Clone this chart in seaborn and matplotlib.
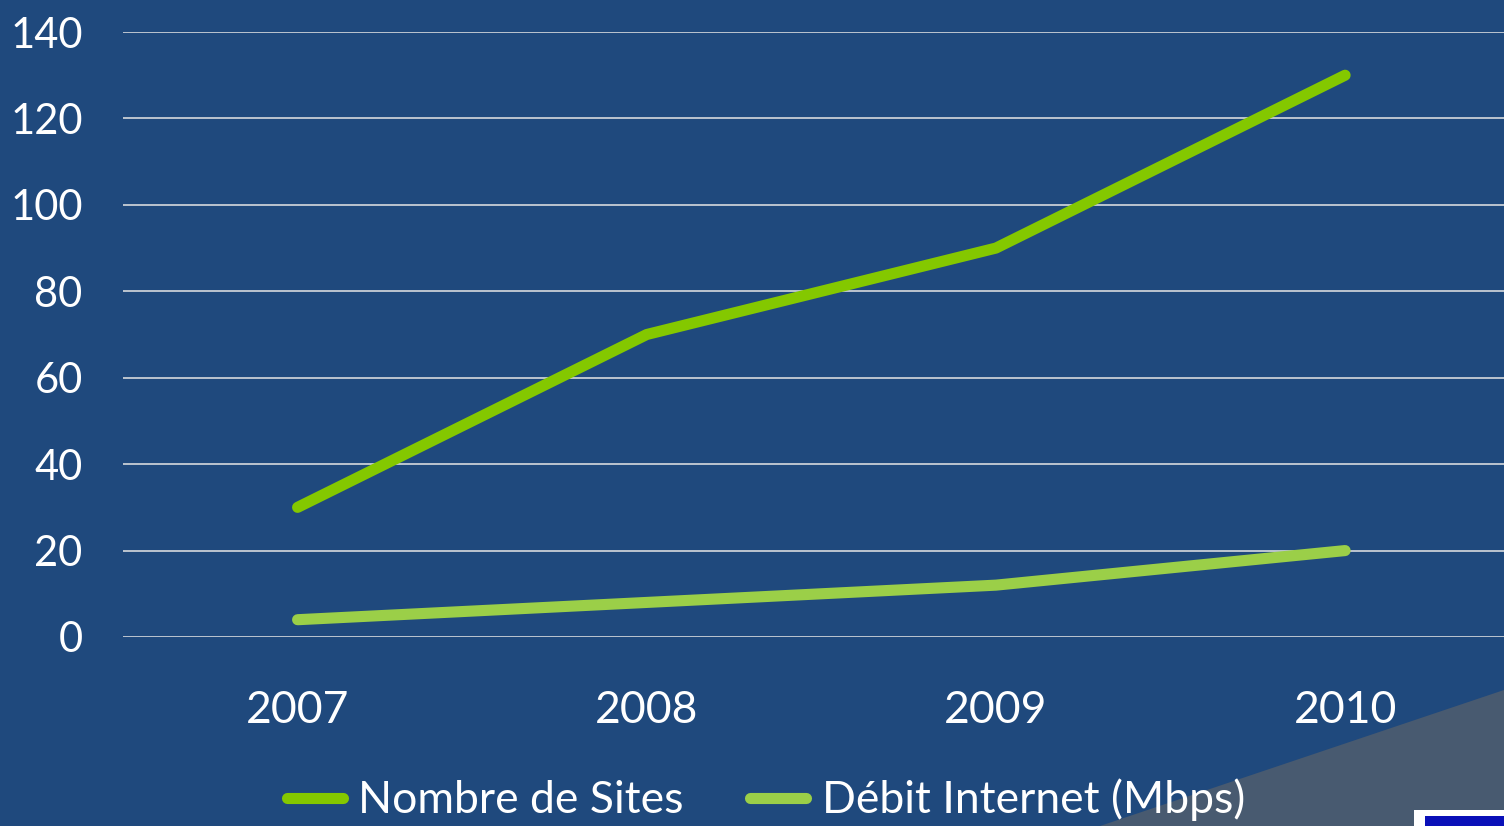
import pandas as pd
import matplotlib.pyplot as plt
import seaborn as sns
from matplotlib.patches import Polygon, Rectangle

# Données
annees = ["2007", "2008", "2009", "2010"]
nombre_sites = [30, 70, 90, 130]
debit_internet = [4, 8, 12, 20]
series = ["Nombre de Sites", "Débit Internet (Mbps)"]
couleurs = ["#84C800", "#9BCF48"]
yticks = [0, 20, 40, 60, 80, 100, 120, 140]

df = pd.DataFrame({
    "annee": annees * 2,
    "valeur": nombre_sites + debit_internet,
    "serie": [series[0]] * 4 + [series[1]] * 4,
})

fond = "#1F497D"
sns.set_style("white")
plt.rcParams["font.family"] = ["Lato", "DejaVu Sans"]

fig = plt.figure(figsize=(15.04, 8.26), dpi=100, facecolor=fond)
# bande grise en bas à droite + coin du logo
fig.patches.append(Polygon([(1100 / 1504, 0), (1.0, 0), (1.0, 1 - 690 / 826)],
                           closed=True, transform=fig.transFigure,
                           facecolor="#485A70", edgecolor="none", zorder=0))
fig.patches.append(Rectangle((1414 / 1504, 0), 90 / 1504, 16 / 826,
                             transform=fig.transFigure, facecolor="white",
                             edgecolor="none", zorder=1))
fig.patches.append(Rectangle((1425 / 1504, 0), 79 / 1504, 10 / 826,
                             transform=fig.transFigure, facecolor="#0A10B8",
                             edgecolor="none", zorder=2))

ax = fig.add_axes([123 / 1504, 1 - 637 / 826, 1 - 123 / 1504, (637 - 32) / 826])
ax.set_facecolor("none")

sns.lineplot(data=df, x="annee", y="valeur", hue="serie", palette=couleurs,
             linewidth=8, sort=False, ax=ax, legend=False, zorder=3)
for ln in ax.lines:
    ln.set_solid_capstyle("round")
    ln.set_solid_joinstyle("round")

ax.set_ylim(0, 140)
ax.set_xlim(-0.5, 3.455)
ax.set_yticks(yticks)
ax.yaxis.grid(True, color="#C8CED6", linewidth=1.3)
ax.set_axisbelow(True)
for s in ax.spines.values():
    s.set_visible(False)
ax.tick_params(axis="both", length=0, colors="white")
ax.tick_params(axis="y", pad=29, labelsize=30)
ax.tick_params(axis="x", pad=38, labelsize=32)
for lab in ax.get_yticklabels():
    lab.set_horizontalalignment("right")
ax.set_xlabel("")
ax.set_ylabel("")

handles = [plt.Line2D([], [], color=c, linewidth=8, solid_capstyle="round") for c in couleurs]
leg = fig.legend(handles, series, loc="center", bbox_to_anchor=(766 / 1504, 1 - 800 / 826),
                 ncol=2, frameon=False, fontsize=32, handlelength=1.25,
                 handletextpad=0.35, columnspacing=1.5, labelcolor="white")

fig.savefig("out.png", dpi=100, facecolor=fond)
